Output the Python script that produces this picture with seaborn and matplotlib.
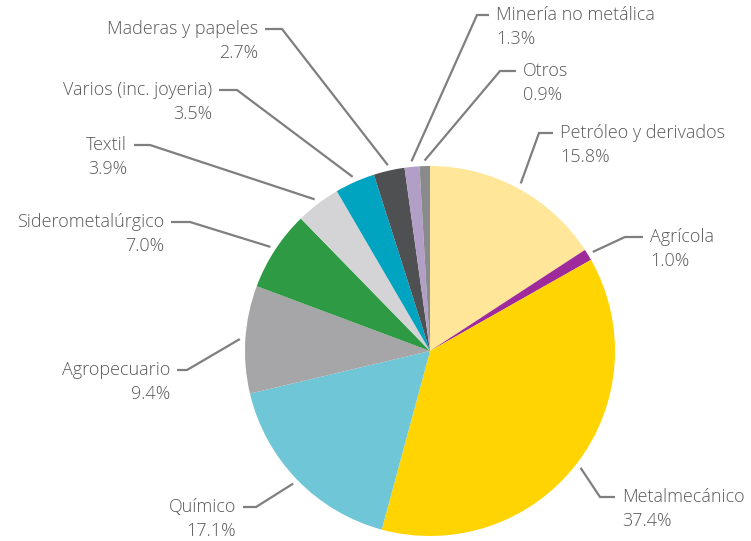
import numpy as np
import matplotlib
matplotlib.use("Agg")
import matplotlib.pyplot as plt
import seaborn as sns

# Datos (porcentajes)
sectores = ["Petróleo y derivados", "Agrícola", "Metalmecánico", "Químico",
            "Agropecuario", "Siderometalúrgico", "Textil", "Varios (inc. joyeria)",
            "Maderas y papeles", "Minería no metálica", "Otros"]
porcentajes = [15.8, 1.0, 37.4, 17.1, 9.4, 7.0, 3.9, 3.5, 2.7, 1.3, 0.9]
colores = ["#FFE699", "#9E2A9C", "#FFD400", "#6EC6D6", "#A6A6A8", "#2E9A44",
           "#D4D4D6", "#00A3C0", "#4F5052", "#B29FC8", "#898A8C"]

# Layout de etiquetas en pixeles (x texto, y texto, x codo, alineacion)
label_pos = [(560, 133, 539, "left"), (650, 237, 625, "left"), (622, 497, 600, "left"),
             (236, 507, 256, "right"), (170, 370, 187, "right"), (164, 222, 190, "right"),
             (127, 145, 150, "right"), (212, 90, 237, "right"), (258, 29, 282, "right"),
             (496, 15, 477, "left"), (523, 71, 500, "left")]

W, H = 751, 541
cx, cy, radio = 430, 351, 185
text_color = "#595959"
line_color = "#7F7F7F"

sns.set_theme(style="white")
plt.rcParams['font.family'] = ['Open Sans', 'DejaVu Sans']

fig = plt.figure(figsize=(W / 100, H / 100), dpi=100)
ax = fig.add_axes([0, 0, 1, 1])

wedges, _ = ax.pie(porcentajes, colors=colores, startangle=90, counterclock=False,
                   center=(cx, H - cy), radius=radio,
                   wedgeprops=dict(linewidth=0))
ax.set_xlim(0, W)
ax.set_ylim(0, H)
ax.set_aspect("equal")
ax.axis("off")

for w, nombre, pct, (tx, ty, ex, ha) in zip(wedges, sectores, porcentajes, label_pos):
    ang = np.deg2rad((w.theta1 + w.theta2) / 2)
    sx = cx + radio * 1.03 * np.cos(ang)
    sy = (H - cy) + radio * 1.03 * np.sin(ang)
    end = tx - 7 if ha == "left" else tx + 7
    ax.plot([sx, ex, end], [sy, H - ty, H - ty], color=line_color, lw=1.6,
            solid_capstyle="butt", solid_joinstyle="miter")
    ax.text(tx, H - ty, nombre, ha=ha, va="center", fontsize=13,
            color=text_color, fontweight="light")
    ax.text(tx, H - ty - 24, f"{pct:.1f}%", ha=ha, va="center", fontsize=13,
            color=text_color, fontweight="light")

plt.savefig("out.png", dpi=100, facecolor="white")
plt.close()
